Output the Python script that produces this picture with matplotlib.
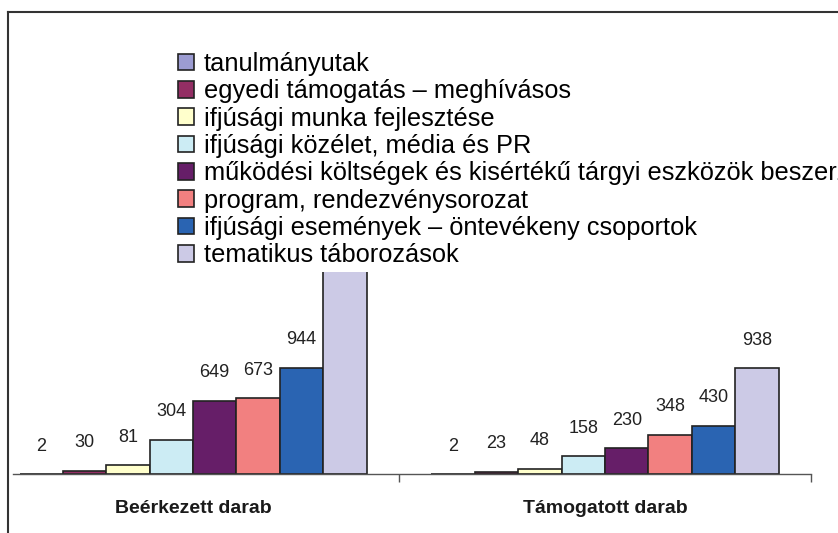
import matplotlib
matplotlib.use("Agg")
import matplotlib.pyplot as plt
import matplotlib.patches as mpatches
from matplotlib.lines import Line2D
import numpy as np

plt.rcParams['font.family'] = ['Liberation Sans', 'DejaVu Sans']

categories = ["Beérkezett darab", "Támogatott darab"]
series = ["tanulmányutak",
          "egyedi támogatás – meghívásos",
          "ifjúsági munka fejlesztése",
          "ifjúsági közélet, média és PR",
          "működési költségek és kisértékű tárgyi eszközök beszerzése",
          "program, rendezvénysorozat",
          "ifjúsági események – öntevékeny csoportok",
          "tematikus táborozások"]
colors = ["#9C9CD2", "#932E64", "#FFFFCC", "#CCECF4",
          "#661E68", "#F28080", "#2A64B2", "#CCCAE6"]

# values per series: [beérkezett, támogatott]
beerkezett = [2, 30, 81, 304, 649, 673, 944, 1850]   # last one is hidden behind the legend
tamogatott = [2, 23, 48, 158, 230, 348, 430, 938]

W, H = 838, 533
fig = plt.figure(figsize=(W / 100, H / 100), dpi=100)
fig.patch.set_facecolor("white")

# axes placed in pixel terms
left, right, base, top = 13, 811, 474.3, 272
ax = fig.add_axes([left / W, (H - base) / H, (right - left) / W, (base - top) / H])

bw = 0.1053
x = np.arange(len(categories))
for i, name in enumerate(series):
    vals = [beerkezett[i], tamogatott[i]]
    pos = x + (i - 3.5) * bw
    ax.bar(pos, vals, width=bw, color=colors[i], edgecolor="#222222",
           linewidth=1.2, label=name, zorder=2)
    for px, v in zip(pos, vals):
        ax.annotate(str(v), (px, v), xytext=(0, 20.2), textcoords="offset points",
                    ha="center", va="center", fontsize=13, color="#222222")

ax.set_xlim(-0.437, 1.5)
ax.set_ylim(0, 1790)
for s in ["top", "left", "right"]:
    ax.spines[s].set_visible(False)
ax.spines["bottom"].set_color("#555555")
ax.spines["bottom"].set_linewidth(1.0)
ax.set_yticks([])
ax.set_xticks([0.5, 1.5])
ax.set_xticklabels([])
ax.tick_params(axis="x", direction="out", length=6, color="#555555", width=1.0)

for xc, name in zip(x, categories):
    ax.annotate(name, (xc, 0), xytext=(0, -24.5), textcoords="offset points",
                ha="center", va="center", fontsize=14, fontweight="bold",
                color="#1a1a1a")

handles = [mpatches.Patch(facecolor=c, edgecolor="#222222", linewidth=1.2) for c in colors]
fig.legend(handles, series, loc="upper left",
           bbox_to_anchor=(178 / W, 1 - 52 / H), fontsize=18.3,
           frameon=True, facecolor="white", edgecolor="none", framealpha=1,
           borderpad=0, borderaxespad=0, handlelength=0.63, handleheight=0.63,
           handletextpad=0.39, labelspacing=0.13)

# outer frame (left and top only visible in the crop)
fig.add_artist(Line2D([8 / W, 8 / W], [0, 1 - 12 / H], transform=fig.transFigure,
                      color="#333333", linewidth=1.5))
fig.add_artist(Line2D([8 / W, 1], [1 - 12 / H, 1 - 12 / H], transform=fig.transFigure,
                      color="#333333", linewidth=1.5))

fig.savefig("out.png", dpi=100)
